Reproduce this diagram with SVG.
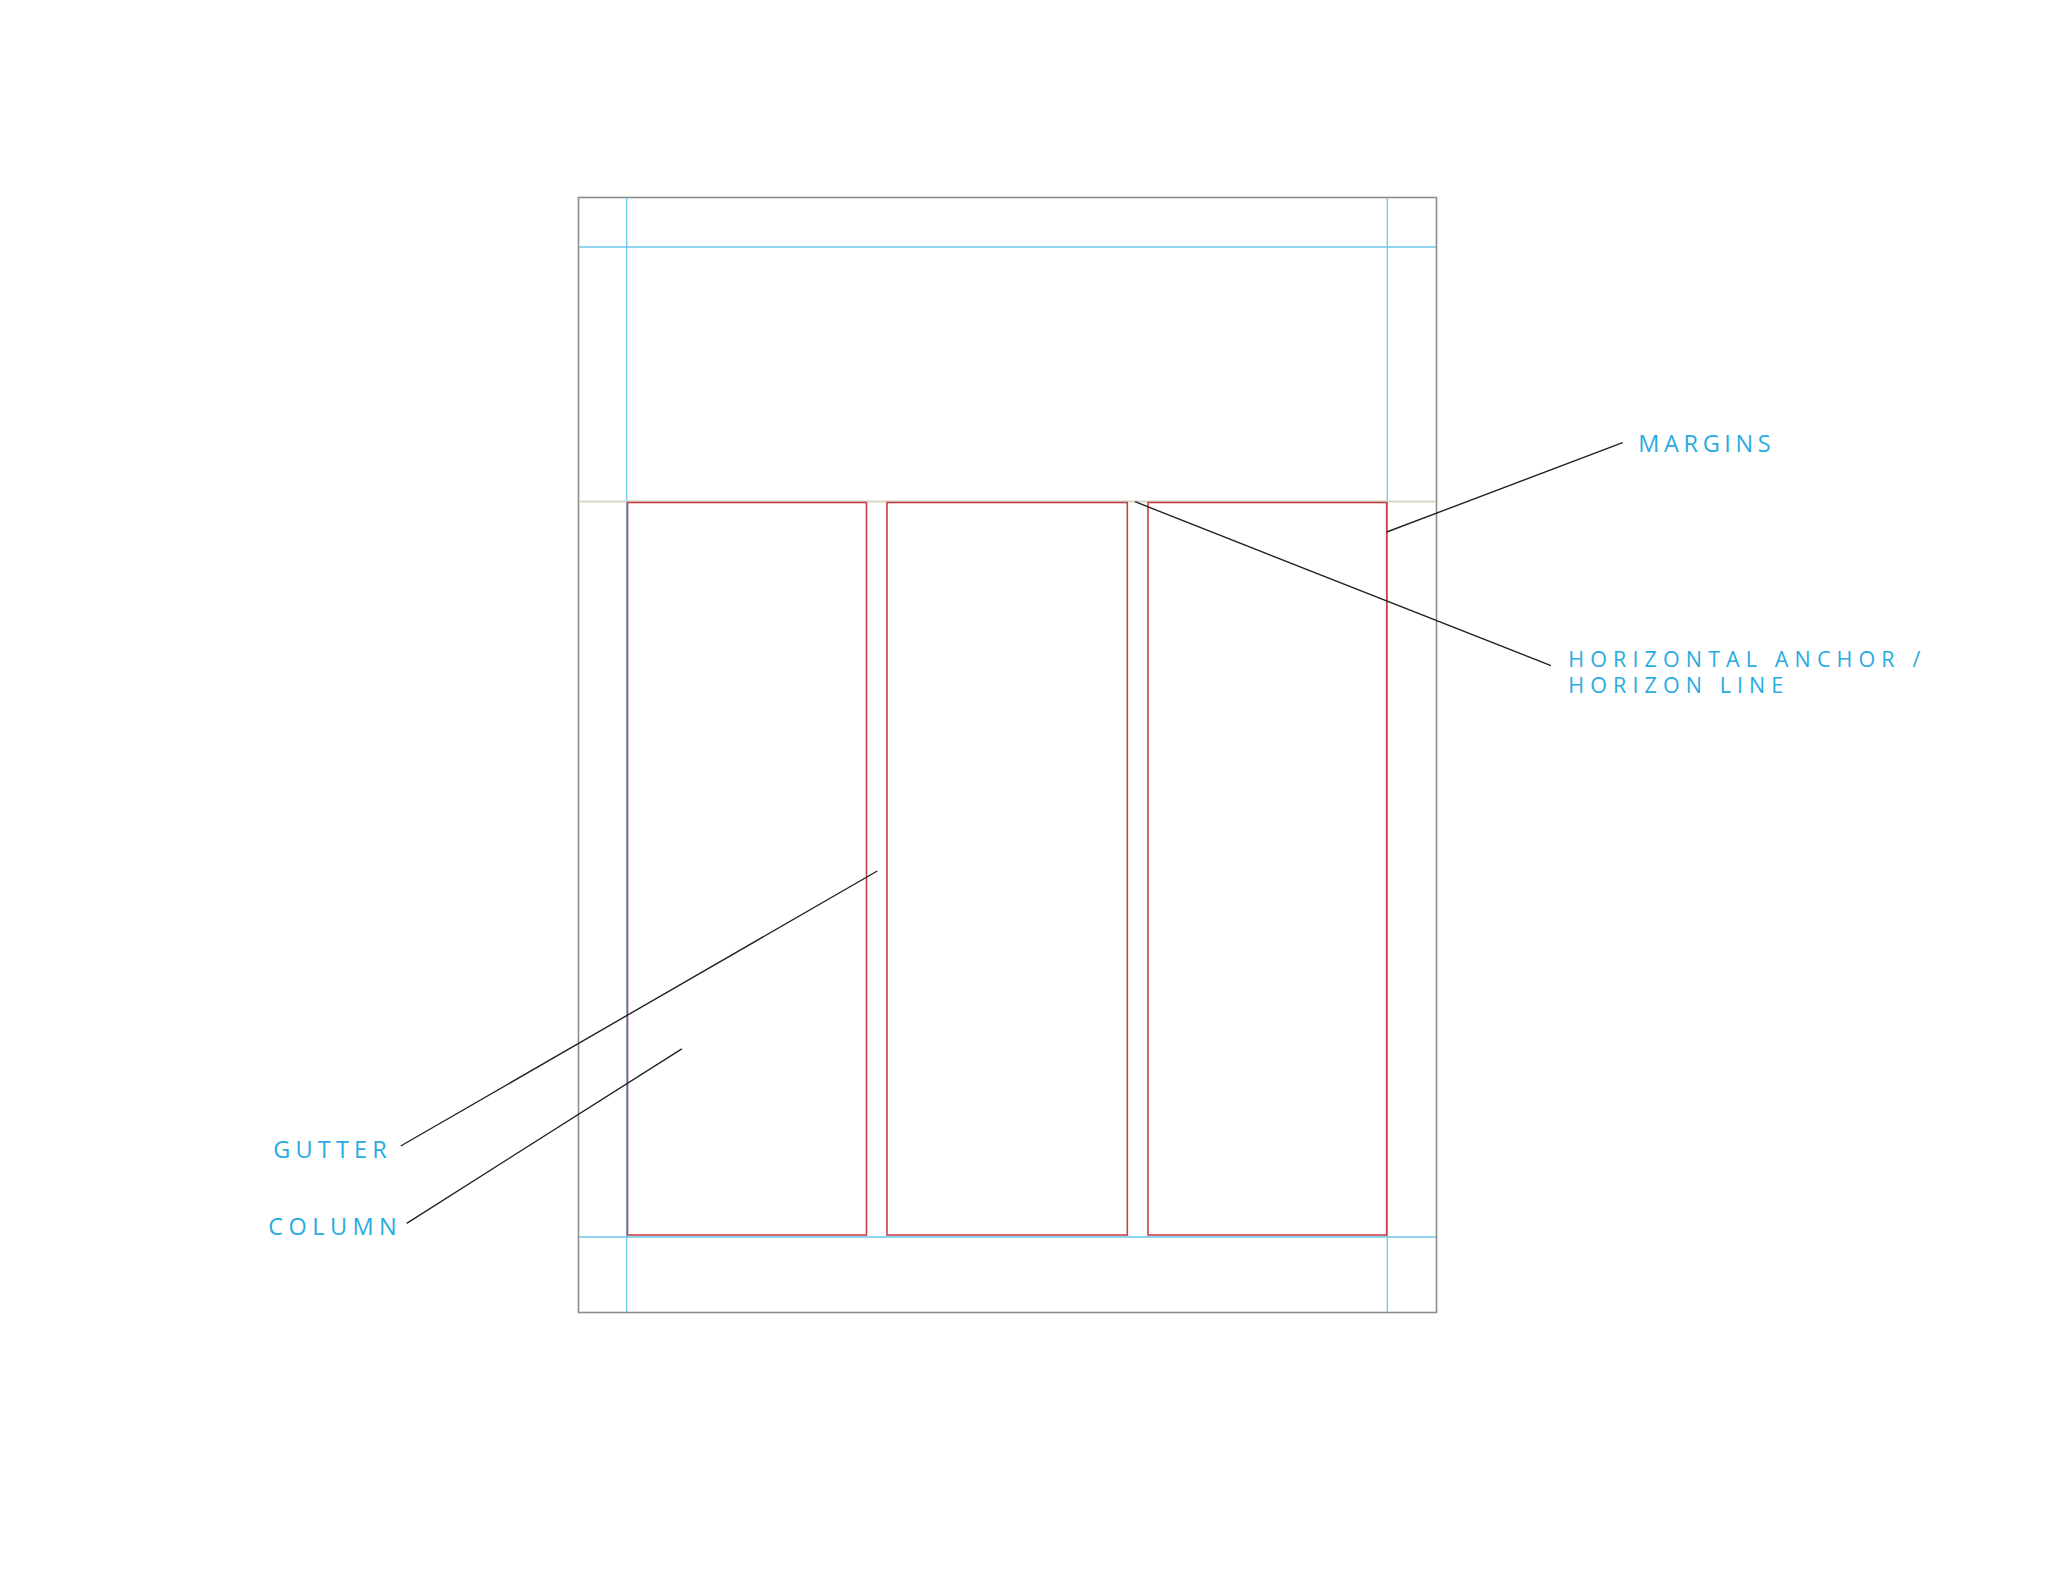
<svg xmlns="http://www.w3.org/2000/svg" width="2048" height="1582" viewBox="0 0 2048 1582">
<style>
.page{fill:none;stroke:#8c8c8c;stroke-width:1.6}
.guide{stroke:#6cc6ea;stroke-width:1.3;fill:none}
.horizon{stroke:#d6d8c2;stroke-width:2;fill:none}
.col{fill:none;stroke:#c9404a;stroke-width:1.6}
.lead{stroke:#222;stroke-width:1.4;fill:none}
.lbl{font-family:"Open Sans","Noto Sans",sans-serif;font-size:23.5px;fill:#29abe2}
.lbl2{font-family:"Open Sans","Noto Sans",sans-serif;font-size:21.5px;fill:#29abe2}
</style>
<rect width="2048" height="1582" fill="#ffffff"/>
<g id="page">
<rect class="page" x="578.5" y="197.5" width="858" height="1115"/>
</g>
<g id="guides">
<line class="guide" x1="626.7" y1="198" x2="626.7" y2="1312"/>
<line class="guide" x1="1387.3" y1="198" x2="1387.3" y2="1312"/>
<line class="guide" x1="579" y1="247" x2="1436" y2="247"/>
<line class="guide" x1="579" y1="1237" x2="1436" y2="1237"/>
<line class="horizon" x1="579" y1="501.5" x2="1436" y2="501.5"/>
</g>
<g id="column1"><rect class="col" x="627.5" y="502.5" width="239" height="732.5"/></g>
<g id="column2"><rect class="col" x="887" y="502.5" width="240.3" height="732.5"/></g>
<g id="column3"><rect class="col" x="1148" y="502.5" width="238.7" height="732.5"/></g>
<g id="connectors">
<line class="lead" x1="1386.7" y1="532" x2="1622.7" y2="442.7"/>
<line class="lead" x1="1135" y1="501.7" x2="1551" y2="665.7"/>
<line class="lead" x1="877.3" y1="871" x2="400.7" y2="1146"/>
<line class="lead" x1="681.8" y1="1048.8" x2="406.7" y2="1223.3"/>
</g>
<g id="label-margins"><text class="lbl" x="1638.3" y="451.7" textLength="132.4" lengthAdjust="spacing">MARGINS</text></g>
<g id="label-horizon">
<text class="lbl2" x="1568.3" y="666.7" textLength="352" lengthAdjust="spacing">HORIZONTAL ANCHOR /</text>
<text class="lbl2" x="1568.3" y="693.3" textLength="215" lengthAdjust="spacing">HORIZON LINE</text>
</g>
<g id="label-gutter"><text class="lbl" x="273.3" y="1158.3" textLength="113.4" lengthAdjust="spacing">GUTTER</text></g>
<g id="label-column"><text class="lbl" x="268.3" y="1235" textLength="128.4" lengthAdjust="spacing">COLUMN</text></g>
</svg>
